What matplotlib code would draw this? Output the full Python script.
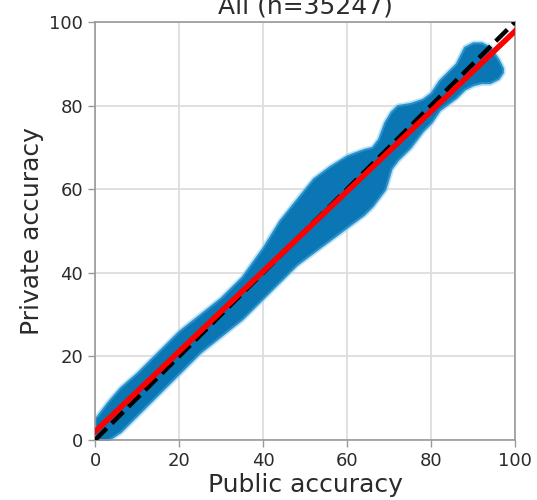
import matplotlib
matplotlib.use("Agg")
import matplotlib.pyplot as plt

# outline of the point cloud (public acc -> private acc range)
cloud_x = [0, 3, 6, 10, 15, 20, 25, 30, 35, 40, 44, 48, 52, 56, 60, 64, 66, 67.5,
           69, 70.5, 72, 75, 78, 80, 82, 84, 86, 88, 90, 92, 94, 96, 97]
cloud_upper = [5, 9, 12.5, 16, 21, 26, 30, 34, 39, 46, 52.5, 57.5, 62.5, 65.5, 68, 69.5, 70, 72,
               76, 78.5, 80, 80.5, 81.5, 83, 86, 88, 90, 94, 95, 95, 94, 91, 89]
cloud_lower = [0, 0, 2, 6, 11, 16, 21, 25, 29, 34, 38, 42, 45, 48, 51, 54, 56, 58,
               60, 65, 67, 70, 74, 76, 79, 80.5, 82, 84, 85, 85.5, 85.5, 86.5, 88]

# identity line and the fitted regression line
ident_x = [0, 100]
ident_y = [0, 100]
fit_x = [0, 100]
fit_y = [2.0, 97.8]

n_models = 35247

fig = plt.figure(figsize=(5.37, 5.0), dpi=100)
ax = fig.add_axes([0.177, 0.12, 0.782, 0.836])

# fuzzy fringe, then the dense core
ax.fill_between(cloud_x, cloud_lower, cloud_upper, facecolor='#6cc0ee',
                edgecolor='#8fd0f2', linewidth=4, alpha=0.6, zorder=2)
ax.fill_between(cloud_x, cloud_lower, cloud_upper, facecolor='#0b76b4',
                edgecolor='#2a90cc', linewidth=1.5, zorder=2)

ax.plot(ident_x, ident_y, color='black', linestyle='--', linewidth=3.2, zorder=3)
ax.plot(fit_x, fit_y, color='red', linewidth=4, zorder=4)

ax.set_xlim(0, 100)
ax.set_ylim(0, 100)
ax.set_xticks([0, 20, 40, 60, 80, 100])
ax.set_yticks([0, 20, 40, 60, 80, 100])
ax.grid(True, color='#dddddd', linewidth=1.3)
ax.set_axisbelow(True)

for s in ax.spines.values():
    s.set_color('#999999')
    s.set_linewidth(1.2)
ax.tick_params(colors='#999999', labelcolor='#2b2b2b', labelsize=13, length=5, width=1)

ax.set_xlabel('Public accuracy', fontsize=18, color='#2b2b2b', labelpad=2)
ax.set_ylabel('Private accuracy', fontsize=18, color='#2b2b2b')
ax.set_title(f'All (n={n_models})', fontsize=18, color='#2b2b2b')

fig.savefig('out.png', dpi=100)
